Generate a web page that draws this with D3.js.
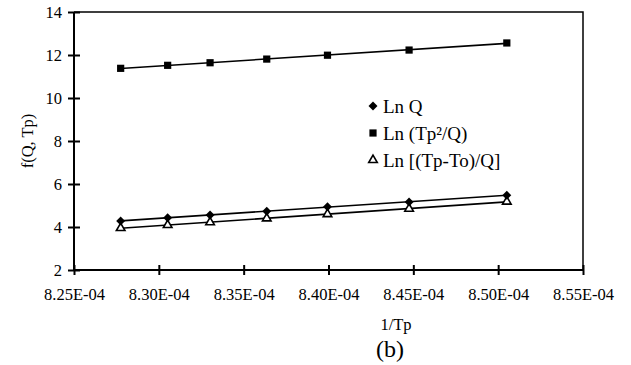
<!DOCTYPE html>
<html>
<head>
<meta charset="utf-8">
<script src="https://cdn.jsdelivr.net/npm/d3@7"></script>
<style>
  body { margin: 0; background: #fff; }
  svg text { font-family: "Liberation Serif", "Times New Roman", serif; fill: #000; }
</style>
</head>
<body>
<svg id="chart" width="631" height="365"></svg>
<script>
// 1/Tp values (x) and the three series
const invTp = [8.2775e-4, 8.3052e-4, 8.3302e-4, 8.3636e-4, 8.3994e-4, 8.4475e-4, 8.5051e-4];
const lnQ = [4.28, 4.43, 4.56, 4.73, 4.94, 5.16, 5.48];
const lnTp2Q = [11.38, 11.52, 11.64, 11.81, 11.99, 12.23, 12.56];
const lnTpToQ = [3.95, 4.09, 4.22, 4.40, 4.60, 4.85, 5.18];
const xTicks = [8.25e-4, 8.30e-4, 8.35e-4, 8.40e-4, 8.45e-4, 8.50e-4, 8.55e-4];
const yTicks = [2, 4, 6, 8, 10, 12, 14];
const seriesNames = ['Ln Q', 'Ln (Tp\u00B2/Q)', 'Ln [(Tp-To)/Q]'];

const svg = d3.select('#chart');
const pl = 74, pr = 583, pt = 12, pb = 270;

const x = d3.scaleLinear().domain([8.25e-4, 8.55e-4]).range([pl, pr]);
const y = d3.scaleLinear().domain([2, 14]).range([pb, pt]);

const fmt = v => (v * 1e4).toFixed(2) + 'E-04';

// frame (top and right)
svg.append('path')
  .attr('d', `M${pl},${pt}H${pr}V${pb}`)
  .attr('fill', 'none').attr('stroke', '#000').attr('stroke-width', 1.5);

// x axis, ticks crossing the line
const gx = svg.append('g').attr('transform', `translate(0,${pb})`)
  .call(d3.axisBottom(x).tickValues(xTicks).tickFormat(fmt).tickSize(5).tickPadding(13));
const gx2 = svg.append('g').attr('transform', `translate(0,${pb})`)
  .call(d3.axisBottom(x).tickValues(xTicks).tickFormat('').tickSize(-5));

// y axis
const gy = svg.append('g').attr('transform', `translate(${pl},0)`)
  .call(d3.axisLeft(y).tickValues(yTicks).tickSize(6).tickPadding(6));
const gy2 = svg.append('g').attr('transform', `translate(${pl},0)`)
  .call(d3.axisLeft(y).tickValues(yTicks).tickFormat('').tickSize(-6));

gx2.select('.domain').remove();
gy2.select('.domain').remove();
gx.select('.domain').attr('d', `M${pl},0H${pr}`);
gy.select('.domain').attr('d', `M0,${pt}V${pb}`);

svg.selectAll('.domain').attr('stroke-width', 2).attr('stroke', '#000');
svg.selectAll('.tick line').attr('stroke-width', 2).attr('stroke', '#000');
svg.selectAll('.tick text').style('font-size', '16.5px');

// trend lines (least squares)
function fit(xs, ys) {
  const mx = d3.mean(xs), my = d3.mean(ys);
  const b = d3.sum(xs, (v, i) => (v - mx) * (ys[i] - my)) / d3.sum(xs, v => (v - mx) * (v - mx));
  return v => my + b * (v - mx);
}
const series = [lnQ, lnTp2Q, lnTpToQ];
const x0 = invTp[0], x1 = invTp[invTp.length - 1];
series.forEach(s => {
  const f = fit(invTp, s);
  svg.append('line')
    .attr('x1', x(x0)).attr('y1', y(f(x0)))
    .attr('x2', x(x1)).attr('y2', y(f(x1)))
    .attr('stroke', '#000').attr('stroke-width', 1.6);
});

// markers
const diamond = d3.symbol().type(d3.symbolSquare).size(40);
const square = d3.symbol().type(d3.symbolSquare).size(52);
const tri = d3.symbol().type(d3.symbolTriangle).size(32);
const rot = [45, 0, 0];

function drawMarks(data, gen, filled, r) {
  svg.append('g').selectAll('path').data(data).join('path')
    .attr('d', gen)
    .attr('transform', (d, i) => `translate(${x(invTp[i])},${y(d)}) rotate(${r})`)
    .attr('fill', filled ? '#000' : '#fff')
    .attr('stroke', '#000').attr('stroke-width', filled ? 0 : 1.6);
}
drawMarks(lnTpToQ, tri, false, 0);
drawMarks(lnQ, diamond, true, 45);
drawMarks(lnTp2Q, square, true, 0);

// legend
const legend = svg.append('g');
const gens = [[diamond, true], [square, true], [tri, false]];
seriesNames.forEach((name, i) => {
  const ly = 106 + i * 27;
  legend.append('path').attr('d', gens[i][0])
    .attr('transform', `translate(373,${ly}) rotate(${rot[i]})`)
    .attr('fill', gens[i][1] ? '#000' : '#fff')
    .attr('stroke', '#000').attr('stroke-width', gens[i][1] ? 0 : 1.6);
  legend.append('text').attr('x', 383).attr('y', ly).attr('dy', '0.35em')
    .style('font-size', '19px').text(name);
});

// axis titles
svg.append('text').attr('x', 396).attr('y', 330).attr('text-anchor', 'middle')
  .style('font-size', '16.5px').text('1/Tp');
svg.append('text').attr('transform', 'translate(33,141) rotate(-90)')
  .attr('text-anchor', 'middle').style('font-size', '16.5px').text('f(Q, Tp)');
svg.append('text').attr('x', 390).attr('y', 357).attr('text-anchor', 'middle')
  .style('font-size', '24px').text('(b)');
</script>
</body>
</html>
